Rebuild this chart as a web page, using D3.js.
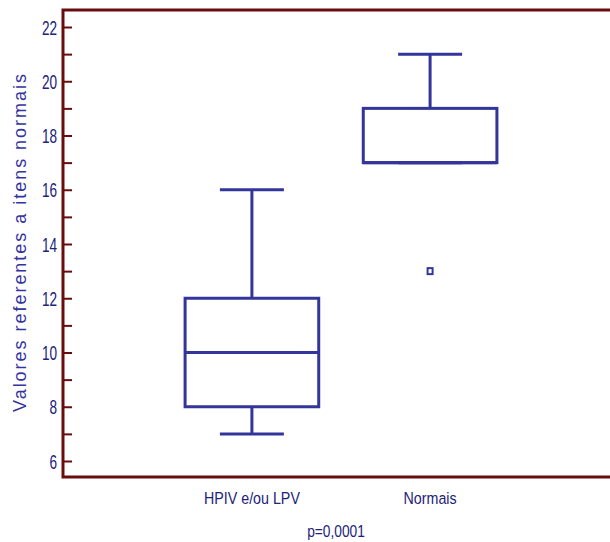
<!DOCTYPE html>
<html lang="en">
<head>
  <meta charset="UTF-8">
  <title>Boxplot</title>
  <script src="https://d3js.org/d3.v7.min.js"></script>
  <style>
    body { margin: 0; background: #fff; }
    text { font-family: "Liberation Sans", Arial, sans-serif; fill: #22227a; }
  </style>
</head>
<body>
  <div id="chart"></div>
  <script>
    const groups = ["HPIV e/ou LPV", "Normais"];
    const whiskerLow = [7, 17];
    const q1 = [8, 17];
    const median = [10, 17];
    const q3 = [12, 19];
    const whiskerHigh = [16, 21];
    const outliers = [[], [13]];
    const yTicks = [6, 8, 10, 12, 14, 16, 18, 20, 22];
    const pText = "p=0,0001";
    const yTitle = "Valores referentes a itens normais";

    const width = 610, height = 542;
    const frameColor = "#6a0c0c";
    const boxColor = "#33359a";

    const svg = d3.select("#chart").append("svg")
      .attr("width", width)
      .attr("height", height);

    const y = d3.scaleLinear().domain([6, 22]).range([461, 27]);
    const x = d3.scaleBand().domain(groups).range([96, 586]).paddingInner(0.25).paddingOuter(0.5);

    // frame
    const frameLeft = 63, frameTop = 10, frameBottom = 477;
    svg.append("path")
      .attr("d", `M${width},${frameTop}H${frameLeft}V${frameBottom}H${width}`)
      .attr("fill", "none")
      .attr("stroke", frameColor)
      .attr("stroke-width", 3);

    // y axis (ticks inside the frame, labels outside, condensed)
    const yAxis = d3.axisRight(y)
      .tickValues(d3.range(6, 23, 1))
      .tickSize(9)
      .tickFormat(d => yTicks.includes(d) ? d : "");
    const gy = svg.append("g")
      .attr("transform", `translate(${frameLeft},0)`)
      .call(yAxis);
    gy.select(".domain").remove();
    gy.selectAll(".tick line").attr("stroke", frameColor).attr("stroke-width", 2);
    gy.selectAll(".tick text")
      .attr("x", 0)
      .attr("dy", "0.35em")
      .attr("text-anchor", "end")
      .attr("font-size", 20)
      .attr("transform", "translate(-6,0) scale(0.68,1)")
      .style("fill", "#22227a");

    svg.append("text")
      .attr("transform", "translate(26,243) rotate(-90)")
      .attr("text-anchor", "middle")
      .attr("font-size", 18)
      .attr("textLength", 338)
      .attr("lengthAdjust", "spacing")
      .style("fill", "#3434a0")
      .text(yTitle);

    const capHalf = 32;
    groups.forEach((g, i) => {
      const cx = x(g) + x.bandwidth() / 2;
      const grp = svg.append("g")
        .attr("stroke", boxColor)
        .attr("stroke-width", 3)
        .attr("fill", "none");
      // whiskers
      grp.append("line").attr("x1", cx).attr("x2", cx).attr("y1", y(q3[i])).attr("y2", y(whiskerHigh[i]));
      grp.append("line").attr("x1", cx).attr("x2", cx).attr("y1", y(q1[i])).attr("y2", y(whiskerLow[i]));
      grp.append("line").attr("x1", cx - capHalf).attr("x2", cx + capHalf).attr("y1", y(whiskerHigh[i])).attr("y2", y(whiskerHigh[i]));
      grp.append("line").attr("x1", cx - capHalf).attr("x2", cx + capHalf).attr("y1", y(whiskerLow[i])).attr("y2", y(whiskerLow[i]));
      // box
      grp.append("rect")
        .attr("x", x(g))
        .attr("y", y(q3[i]))
        .attr("width", x.bandwidth())
        .attr("height", y(q1[i]) - y(q3[i]));
      grp.append("line")
        .attr("x1", x(g)).attr("x2", x(g) + x.bandwidth())
        .attr("y1", y(median[i])).attr("y2", y(median[i]));
      // outliers
      outliers[i].forEach(v => {
        grp.append("rect")
          .attr("x", cx - 2.5).attr("y", y(v) - 3)
          .attr("width", 5).attr("height", 6)
          .attr("stroke-width", 2);
      });
      svg.append("text")
        .attr("transform", `translate(${cx},504) scale(0.84,1)`)
        .attr("text-anchor", "middle")
        .attr("font-size", 17)
        .text(g);
    });

    svg.append("text")
      .attr("transform", "translate(336,537) scale(0.86,1)")
      .attr("text-anchor", "middle")
      .attr("font-size", 16)
      .text(pText);
  </script>
</body>
</html>
